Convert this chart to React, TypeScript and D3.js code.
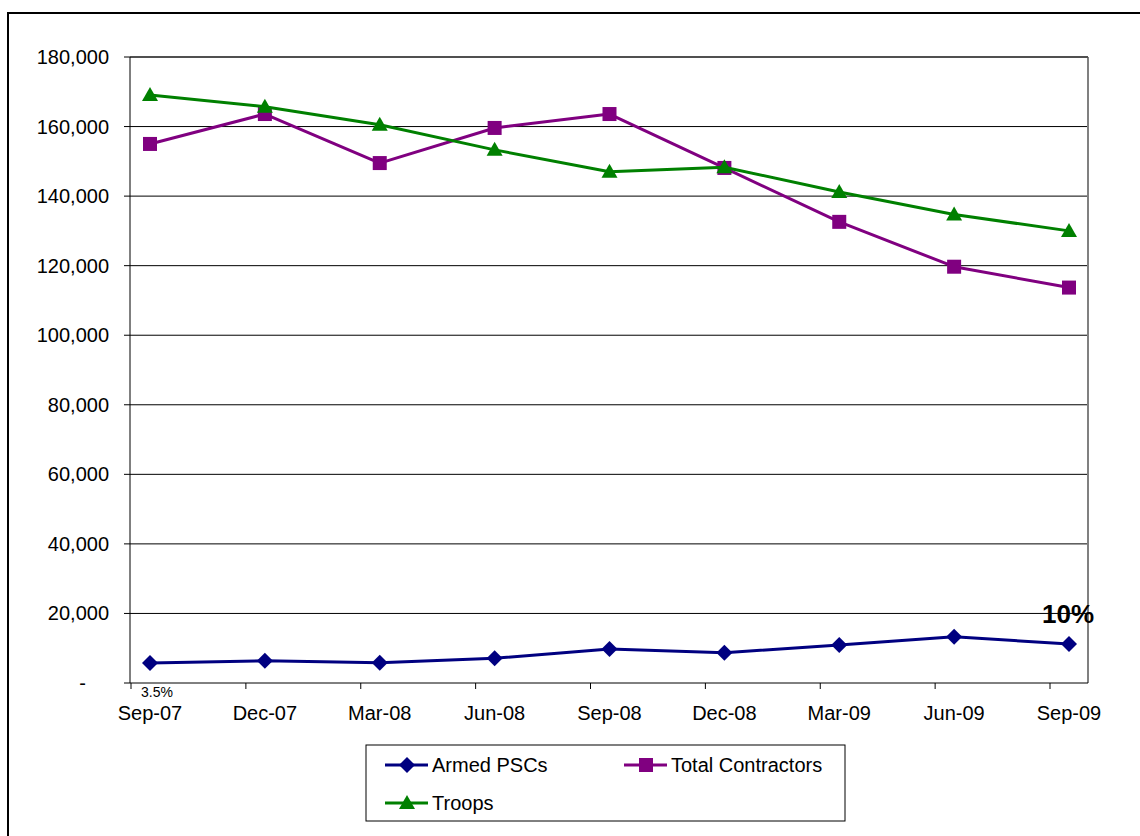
import * as d3 from 'd3'

const categories = ['Sep-07', 'Dec-07', 'Mar-08', 'Jun-08', 'Sep-08', 'Dec-08', 'Mar-09', 'Jun-09', 'Sep-09']

const armedPSCs = [5750, 6400, 5850, 7100, 9800, 8700, 10900, 13300, 11200]
const totalContractors = [155000, 163600, 149500, 159600, 163600, 148100, 132600, 119700, 113700]
const troops = [169100, 165700, 160500, 153300, 147000, 148300, 141200, 134700, 130000]

const yTicks = [0, 20000, 40000, 60000, 80000, 100000, 120000, 140000, 160000, 180000]

const series = [
  { name: 'Armed PSCs', values: armedPSCs, color: '#000080', marker: 'diamond' },
  { name: 'Total Contractors', values: totalContractors, color: '#800080', marker: 'square' },
  { name: 'Troops', values: troops, color: '#008000', marker: 'triangle' },
]

const FONT = '"Liberation Sans", Arial, sans-serif'

// plot area bounds
const plot = { left: 130, right: 1088, top: 57, bottom: 683 }

const Marker = ({ type, x, y, color }: { type: string; x: number; y: number; color: string }) => {
  if (type === 'square') {
    return <rect x={x - 7} y={y - 7} width={14} height={14} fill={color} />
  }
  if (type === 'triangle') {
    return <path d={`M${x},${y - 8}L${x + 8},${y + 6}L${x - 8},${y + 6}Z`} fill={color} />
  }
  return <path d={`M${x},${y - 8}L${x + 8},${y}L${x},${y + 8}L${x - 8},${y}Z`} fill={color} />
}

const App = () => {
  const width = 1140
  const height = 836

  const x = d3.scaleLinear().domain([0, categories.length - 1]).range([150, 1069])
  const y = d3.scaleLinear().domain([0, 180000]).range([plot.bottom, plot.top])
  const fmt = d3.format(',')

  // category tick marks sit a little left of the points
  const tickOffset = 19

  const line = d3
    .line<number>()
    .x((_, i) => x(i))
    .y((d) => y(d))

  const legendItems = [
    { s: series[0], lx: 385, ly: 765 },
    { s: series[1], lx: 624, ly: 765 },
    { s: series[2], lx: 385, ly: 803 },
  ]

  return (
    <div style={{ position: 'absolute', left: 0, top: 0 }}>
      <svg width={width} height={height} style={{ display: 'block', background: '#fff' }} fontFamily={FONT}>
        {/* outer chart frame */}
        <rect x={8} y={13} width={1160} height={900} fill="none" stroke="#000" strokeWidth={2} />

        {/* gridlines */}
        {yTicks.slice(1).map((t) => (
          <line key={t} x1={plot.left} x2={plot.right} y1={y(t)} y2={y(t)} stroke="#000" strokeWidth={1} />
        ))}

        {/* plot frame */}
        <line x1={plot.right} x2={plot.right} y1={plot.top} y2={plot.bottom} stroke="#808080" strokeWidth={2} />
        <line x1={plot.left} x2={plot.right} y1={plot.top} y2={plot.top} stroke="#404040" strokeWidth={1.5} />
        <line x1={plot.left} x2={plot.left} y1={plot.top} y2={plot.bottom} stroke="#000" strokeWidth={1} />
        <line x1={plot.left} x2={plot.right} y1={plot.bottom} y2={plot.bottom} stroke="#000" strokeWidth={1} />

        {/* y axis */}
        {yTicks.map((t) => (
          <g key={t}>
            <line x1={plot.left - 6} x2={plot.left} y1={y(t)} y2={y(t)} stroke="#000" />
            <text
              x={t === 0 ? 86 : 109}
              y={y(t)}
              dy="0.35em"
              textAnchor="end"
              fontSize={20}
              fill="#000"
            >
              {t === 0 ? '-' : fmt(t)}
            </text>
          </g>
        ))}

        {/* x axis */}
        {categories.map((c, i) => (
          <g key={c}>
            <line
              x1={x(i) - tickOffset}
              x2={x(i) - tickOffset}
              y1={plot.bottom}
              y2={plot.bottom + 6}
              stroke="#000"
            />
            <text x={x(i)} y={720} textAnchor="middle" fontSize={20} fill="#000">
              {c}
            </text>
          </g>
        ))}

        {/* series */}
        {series.map((s) => (
          <g key={s.name}>
            <path d={line(s.values) ?? ''} fill="none" stroke={s.color} strokeWidth={3} strokeLinejoin="round" />
            {s.values.map((v, i) => (
              <Marker key={i} type={s.marker} x={x(i)} y={y(v)} color={s.color} />
            ))}
          </g>
        ))}

        {/* annotations */}
        <text x={157} y={697} textAnchor="middle" fontSize={14} fill="#000">
          3.5%
        </text>
        <text x={1068} y={623} textAnchor="middle" fontSize={26} fontWeight="bold" fill="#000">
          10%
        </text>

        {/* legend */}
        <rect x={366} y={745} width={479} height={76} fill="#fff" stroke="#000" strokeWidth={1} />
        {legendItems.map(({ s, lx, ly }) => (
          <g key={s.name}>
            <line x1={lx} x2={lx + 43} y1={ly} y2={ly} stroke={s.color} strokeWidth={3} />
            <Marker type={s.marker} x={lx + 22} y={ly} color={s.color} />
            <text x={lx + 47} y={ly} dy="0.35em" fontSize={20} fill="#000">
              {s.name}
            </text>
          </g>
        ))}
      </svg>
    </div>
  )
}

export default App
